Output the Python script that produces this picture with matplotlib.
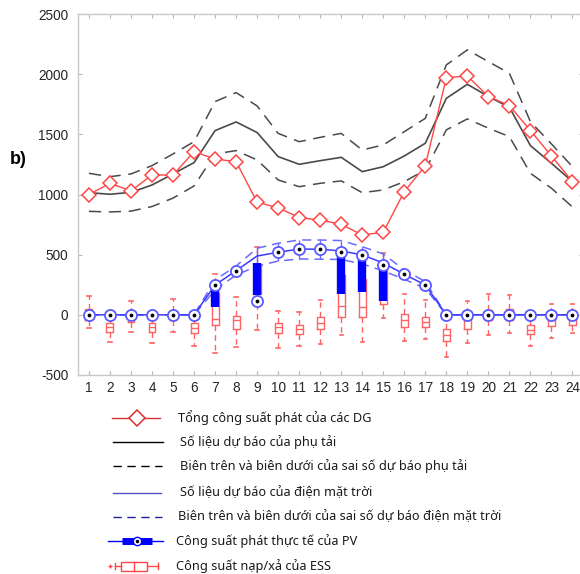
import numpy as np
import matplotlib
matplotlib.use("Agg")
import matplotlib.pyplot as plt
from matplotlib.lines import Line2D
from matplotlib.patches import Rectangle

plt.rcParams["axes.unicode_minus"] = False

# ---- data -------------------------------------------------------------
hours = list(range(1, 25))

dg_total = [1000, 1093, 1030, 1162, 1162, 1356, 1295, 1273, 936, 890, 808, 788,
            752, 664, 686, 1024, 1240, 1971, 1985, 1814, 1739, 1531, 1320, 1107]

load_fc = [1015, 1002, 1018, 1079, 1171, 1265, 1531, 1603, 1515, 1315, 1251, 1281,
           1309, 1190, 1231, 1320, 1426, 1799, 1916, 1814, 1725, 1406, 1259, 1107]
load_up = [1176, 1148, 1171, 1240, 1337, 1439, 1772, 1847, 1736, 1508, 1439, 1475,
           1508, 1370, 1412, 1522, 1633, 2077, 2202, 2104, 2007, 1605, 1420, 1231]
load_lo = [860, 855, 862, 900, 970, 1071, 1337, 1365, 1287, 1121, 1065, 1093,
           1113, 1015, 1038, 1107, 1204, 1537, 1628, 1551, 1481, 1176, 1052, 896]

pv_fc = [0, 0, 0, 0, 0, 0, 248, 367, 489, 520, 547, 545,
         531, 498, 431, 337, 248, 0, 0, 0, 0, 0, 0, 0]
pv_up = [0, 0, 0, 0, 0, 0, 290, 406, 553, 595, 622, 622,
         617, 566, 506, 373, 276, 0, 0, 0, 0, 0, 0, 0]
pv_lo = [0, 0, 0, 0, 0, 0, 207, 331, 405, 447, 464, 462,
         460, 423, 365, 295, 220, 0, 0, 0, 0, 0, 0, 0]
pv_actual = [0, 0, 0, 0, 0, 0, 248, 367, 117, 520, 547, 545,
             522, 495, 417, 337, 248, 0, 0, 0, 0, 0, 0, 0]

nan = np.nan
# thick bar (range of actual PV output) and thin whiskers
pv_bar_lo = [nan] * 6 + [64, nan, 166, nan, nan, nan, 175, 186, 116] + [nan] * 9
pv_bar_hi = [nan] * 6 + [235, nan, 430, nan, nan, nan, 513, 499, 430] + [nan] * 9
pv_whi_lo = [nan] * 8 + [120, 447, 464, 462, 460, 423, 365] + [nan] * 9
pv_whi_hi = [nan] * 8 + [560, 595, 622, 622, 617, 566, 506] + [nan] * 9

# ESS charge/discharge statistics per hour
ess_whishi = [158, 28, 111, 28, 130, 28, 338, 152, 560, 33, 22, 125,
              480, 470, 513, 175, 125, -40, 116, 172, 166, 0, 89, 89]
ess_q3 = [47, -64, 14, -64, 28, -69, 180, -6, 420, -64, -86, -14,
          333, 297, 388, 8, -14, -119, 14, 42, 47, -83, 14, 14]
ess_med = [0, -102, -20, -102, 0, -111, -36, -47, 300, -105, -119, -69,
           75, 64, 250, -42, -56, -166, -40, 0, 0, -125, -47, -36]
ess_q1 = [-42, -139, -56, -139, -42, -152, -83, -116, 170, -152, -158, -116,
          -19, -14, 91, -97, -102, -216, -119, -47, -47, -160, -91, -83]
ess_whislo = [-111, -222, -144, -230, -139, -258, -318, -268, -125, -277, -263, -241,
              -166, -222, -28, -214, -202, -352, -235, -166, -152, -258, -194, -152]

y_ticks = [-500, 0, 500, 1000, 1500, 2000, 2500]

legend_labels = [
    "Tổng công suất phát của các DG",
    "Số liệu dự báo của phụ tải",
    "Biên trên và biên dưới của sai số dự báo phụ tải",
    "Số liệu dự báo của điện mặt trời",
    "Biên trên và biên dưới của sai số dự báo điện mặt trời",
    "Công suất phát thực tế của PV",
    "Công suất nạp/xả của ESS",
]

# ---- styles -----------------------------------------------------------
RED = "#ff4646"
BOXRED = "#ff6262"
GREY = "#4a4a4a"
BLUE = "#3a3aff"
LBLUE = "#6a6aff"
DBLUE = "#0000ff"
TXT_FONT = ["Noto Sans", "DejaVu Sans"]

fig = plt.figure(figsize=(5.8, 5.74), dpi=100)
W, H = 580, 574
ax = fig.add_axes([78 / W, 1 - 375 / H, 505 / W, 361 / H])

# ESS boxplots
stats = []
for i in range(24):
    stats.append(dict(med=ess_med[i], q1=ess_q1[i], q3=ess_q3[i],
                      whislo=ess_whislo[i], whishi=ess_whishi[i], fliers=[]))
ax.bxp(stats, positions=hours, widths=0.33, capwidths=0.16, showfliers=False,
       manage_ticks=False,
       boxprops=dict(color=BOXRED, lw=1.0),
       medianprops=dict(color=BOXRED, lw=1.0),
       whiskerprops=dict(color=BOXRED, lw=1.0, linestyle=(0, (4, 3))),
       capprops=dict(color=BOXRED, lw=1.2), zorder=2)

# load forecast and its error bounds
ax.plot(hours, load_up, color=GREY, lw=1.1, ls=(0, (8, 5)), zorder=3)
ax.plot(hours, load_lo, color=GREY, lw=1.1, ls=(0, (8, 5)), zorder=3)
ax.plot(hours, load_fc, color=GREY, lw=1.2, zorder=3)

# PV forecast and bounds
ax.plot(hours, pv_up, color=LBLUE, lw=1.1, ls=(0, (6, 4)), zorder=4)
ax.plot(hours, pv_lo, color=LBLUE, lw=1.1, ls=(0, (6, 4)), zorder=4)
ax.vlines(hours, pv_whi_lo, pv_whi_hi, color=LBLUE, lw=1.0, zorder=4)
ax.plot(hours, pv_fc, color=BLUE, lw=1.1, zorder=4)

# actual PV output
ax.vlines(hours, pv_bar_lo, pv_bar_hi, color=DBLUE, lw=6, zorder=5)
ax.plot(hours, pv_actual, ls="none", marker="o", ms=8, mfc="white",
        mec="#5a5aff", mew=1.3, zorder=6)
ax.plot(hours, pv_actual, ls="none", marker=".", ms=3.5, color="black", zorder=7)

# total DG output
ax.plot(hours, dg_total, color=RED, lw=1.0, marker="D", ms=7.5, mfc="white",
        mec=RED, mew=1.1, zorder=8)

ax.set_xlim(0.48, 24.5)
ax.set_ylim(-500, 2500)
ax.set_xticks(hours)
ax.set_xticklabels([str(h) for h in hours])
ax.set_yticks(y_ticks)
ax.tick_params(direction="in", length=3, color="#b5b5b5", top=True, right=True,
               labelsize=9.8, labelcolor="#262626")
ax.tick_params(axis="y", pad=7)
ax.tick_params(axis="x", pad=4)
for lab in ax.get_xticklabels() + ax.get_yticklabels():
    lab.set_family("Liberation Sans")
for sp in ax.spines.values():
    sp.set_color("#c8c8c8")
    sp.set_linewidth(1.0)

fig.text(10 / W, 1 - 160 / H, "b)", fontsize=13, fontweight="bold",
         family="Liberation Sans", va="center", ha="left")

# ---- legend drawn in pixel coordinates ---------------------------------
lg = fig.add_axes([0, 0, 1, 1], zorder=10)
lg.set_xlim(0, W)
lg.set_ylim(H, 0)
lg.axis("off")
lg.patch.set_alpha(0)

rows = [418, 442, 466, 493, 517, 541, 566]
text_x = [178, 180, 180, 180, 178, 176, 176]

y = rows[0]
lg.add_line(Line2D([112, 160], [y, y], color="#d83030", lw=1.0))
lg.add_line(Line2D([137], [y], marker="D", ms=8.5, mfc="white", mec="#d83030", mew=1.1))
y = rows[1]
lg.add_line(Line2D([113, 163], [y, y], color="black", lw=1.0))
y = rows[2]
lg.add_line(Line2D([113, 162], [y, y], color="black", lw=1.0, ls=(0, (6, 4))))
y = rows[3]
lg.add_line(Line2D([113, 161], [y, y], color="#5050c8", lw=1.0))
y = rows[4]
lg.add_line(Line2D([113, 162], [y, y], color="#2020a0", lw=1.0, ls=(0, (6, 4))))
y = rows[5]
lg.add_line(Line2D([108, 163], [y, y], color=DBLUE, lw=1.0))
lg.add_line(Line2D([122, 152], [y, y], color=DBLUE, lw=5, solid_capstyle="butt"))
lg.add_line(Line2D([137], [y], marker="o", ms=6, mfc="white", mec=DBLUE, mew=1.0))
lg.add_line(Line2D([137], [y], marker=".", ms=3, color="black"))
y = rows[6]
lg.add_line(Line2D([110], [y], marker="+", ms=3, color=RED, mew=1.0))
lg.add_line(Line2D([115, 121], [y, y], color=RED, lw=1.0))
lg.add_line(Line2D([115, 115], [y - 3, y + 3], color=RED, lw=1.0))
lg.add_patch(Rectangle((121, y - 4.5), 26, 9, fill=False, ec=RED, lw=1.0))
lg.add_line(Line2D([134, 134], [y - 4.5, y + 4.5], color=RED, lw=1.0))
lg.add_line(Line2D([147, 158], [y, y], color=RED, lw=1.0))
lg.add_line(Line2D([158, 158], [y - 3, y + 3], color=RED, lw=1.0))

for yy, xx, label in zip(rows, text_x, legend_labels):
    lg.text(xx, yy, label, family=TXT_FONT, fontsize=9.2, va="center", ha="left",
            color="#1a1a1a")

fig.savefig("out.png", dpi=100)
